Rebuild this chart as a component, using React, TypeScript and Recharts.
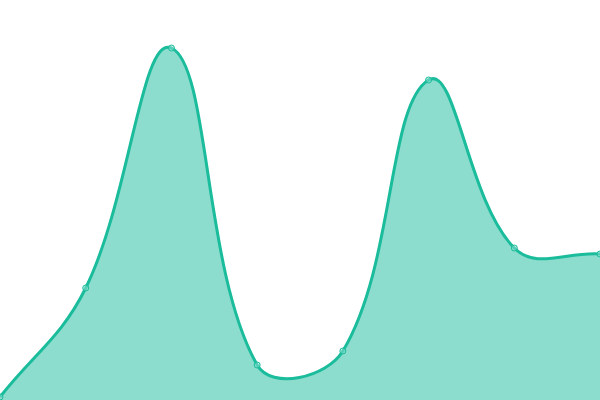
import React from "react";
import { AreaChart, Area, XAxis, YAxis } from "recharts";

const categories = ["A", "B", "C", "D", "E", "F", "G", "H"];
const values = [3, 112, 352, 35, 49, 320, 152, 146];

const data = categories.map((c, i) => ({ name: c, value: values[i] }));

const TENSION = 0.4;

function splineCurve(context: any) {
  let pts: number[][] = [];
  let line = NaN;
  const draw = () => {
    const n = pts.length;
    if (n === 0) return;
    const cps = pts.map((cur, i) => {
      const prev = i > 0 ? pts[i - 1] : cur;
      const next = i < n - 1 ? pts[i + 1] : cur;
      const d01 = Math.hypot(cur[0] - prev[0], cur[1] - prev[1]);
      const d12 = Math.hypot(next[0] - cur[0], next[1] - cur[1]);
      let s01 = d01 / (d01 + d12);
      let s12 = d12 / (d01 + d12);
      if (isNaN(s01)) s01 = 0;
      if (isNaN(s12)) s12 = 0;
      const fa = TENSION * s01;
      const fb = TENSION * s12;
      return {
        p: [cur[0] - fa * (next[0] - prev[0]), cur[1] - fa * (next[1] - prev[1])],
        n: [cur[0] + fb * (next[0] - prev[0]), cur[1] + fb * (next[1] - prev[1])],
      };
    });
    if (line) context.lineTo(pts[0][0], pts[0][1]);
    else context.moveTo(pts[0][0], pts[0][1]);
    for (let i = 1; i < n; i++) {
      const a = cps[i - 1].n;
      const b = cps[i].p;
      context.bezierCurveTo(a[0], a[1], b[0], b[1], pts[i][0], pts[i][1]);
    }
  };
  return {
    areaStart() {
      line = 0;
    },
    areaEnd() {
      line = NaN;
    },
    lineStart() {
      pts = [];
    },
    lineEnd() {
      draw();
      if (line || (line !== 0 && pts.length === 1)) context.closePath();
      line = 1 - line;
    },
    point(x: number, y: number) {
      pts.push([+x, +y]);
    },
  };
}

export default function App() {
  return (
    <div style={{ position: "absolute", left: 0, top: 0, width: 600, height: 400, background: "#fff" }}>
      <AreaChart width={600} height={400} data={data} margin={{ top: 0, right: 0, bottom: 0, left: 0 }}>
        <XAxis dataKey="name" hide />
        <YAxis hide domain={[0, 400]} />
        <Area
          type={splineCurve as any}
          dataKey="value"
          stroke="#1abc9c"
          strokeWidth={3}
          fill="#1abc9c"
          fillOpacity={0.5}
          dot={{ r: 3, fill: "#8ddfcf", stroke: "#1abc9c", strokeWidth: 1 }}
          activeDot={false}
          isAnimationActive={false}
        />
      </AreaChart>
    </div>
  );
}
